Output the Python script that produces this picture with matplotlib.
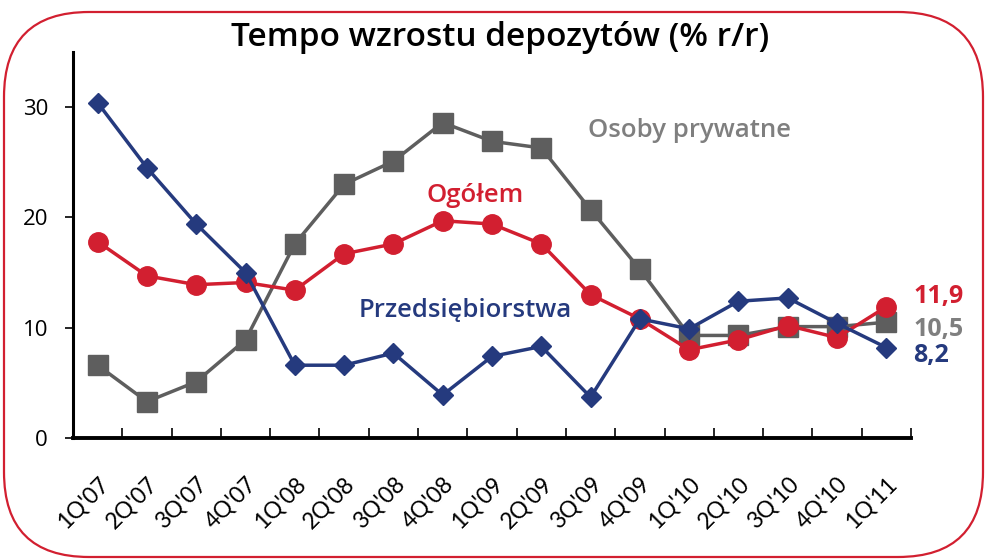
import matplotlib
matplotlib.use("Agg")
import matplotlib.pyplot as plt
from matplotlib.patches import FancyBboxPatch
import numpy as np

plt.rcParams['font.family'] = ['Open Sans', 'DejaVu Sans']

quarters = ["1Q'07", "2Q'07", "3Q'07", "4Q'07", "1Q'08", "2Q'08", "3Q'08", "4Q'08",
            "1Q'09", "2Q'09", "3Q'09", "4Q'09", "1Q'10", "2Q'10", "3Q'10", "4Q'10", "1Q'11"]
przedsiebiorstwa = [30.4, 24.5, 19.4, 15.0, 6.6, 6.6, 7.7, 3.9, 7.4, 8.3, 3.7, 10.8,
                    9.9, 12.4, 12.7, 10.4, 8.2]
osoby_prywatne = [6.6, 3.3, 5.1, 8.9, 17.6, 23.0, 25.1, 28.6, 26.9, 26.3, 20.7, 15.3,
                  9.3, 9.3, 10.1, 10.1, 10.5]
ogolem = [17.8, 14.7, 13.9, 14.1, 13.4, 16.7, 17.6, 19.7, 19.4, 17.6, 13.0, 10.8,
          8.0, 8.9, 10.2, 9.1, 11.9]

RED = '#D21F30'
BLUE = '#253A7E'
GRAY = '#5E5E5E'
LGRAY = '#7F7F7F'

W, H = 986, 560
fig = plt.figure(figsize=(W/100, H/100), dpi=100)

# background axes in pixel coordinates for the rounded frame
bg = fig.add_axes([0, 0, 1, 1])
bg.set_xlim(0, W)
bg.set_ylim(H, 0)
bg.axis('off')
frame = FancyBboxPatch((4, 12), 979, 545, boxstyle="round,pad=0,rounding_size=85",
                       fill=False, edgecolor=RED, linewidth=1.6)
bg.add_patch(frame)

ax = fig.add_axes([73/W, 1 - 438/H, (911 - 73)/W, (438 - 52)/H])

x = np.arange(len(quarters))
ax.plot(x, osoby_prywatne, color=GRAY, lw=2.5, marker='s', ms=14, zorder=3)
ax.plot(x, ogolem, color=RED, lw=2.5, marker='o', ms=14, zorder=4)
ax.plot(x, przedsiebiorstwa, color=BLUE, lw=2.5, marker='D', ms=10, zorder=5)

ax.set_xlim(-0.5, len(quarters) - 0.5)
ax.set_ylim(0, 35)
ax.set_yticks([0, 10, 20, 30])
ax.tick_params(axis='y', labelsize=16, length=6, width=1.2, direction='out', pad=12)
ax.set_xticks(x)
ax.set_xticklabels(quarters, rotation=45, ha='right', rotation_mode='anchor',
                   fontsize=16.5, family=['Lato', 'DejaVu Sans'])
ax.tick_params(axis='x', length=0, pad=25)
ax.set_xticks(np.arange(len(quarters) + 1) - 0.5, minor=True)
ax.tick_params(axis='x', which='minor', length=7, width=1.2, direction='in')
for s in ['top', 'right']:
    ax.spines[s].set_visible(False)
ax.spines['left'].set_linewidth(2.2)
ax.spines['bottom'].set_linewidth(2.8)
ax.patch.set_alpha(0)

fig.text(500/W, 1 - 38/H, 'Tempo wzrostu depozytów (% r/r)', ha='center', va='center',
         fontsize=24, fontweight='semibold', color='black')

ax.text(12.0, 27.9, 'Osoby prywatne', color=LGRAY, fontsize=18.5, fontweight='semibold',
        ha='center', va='center')
ax.text(7.65, 22.0, 'Ogółem', color=RED, fontsize=18.5, fontweight='semibold',
        ha='center', va='center')
ax.text(7.45, 11.6, 'Przedsiębiorstwa', color=BLUE, fontsize=18.5, fontweight='semibold',
        ha='center', va='center')

ax.text(16.55, 12.8, '11,9', color=RED, fontsize=18, fontweight='bold', ha='left', va='center')
ax.text(16.55, 9.8, '10,5', color=LGRAY, fontsize=18, fontweight='bold', ha='left', va='center')
ax.text(16.55, 7.5, '8,2', color=BLUE, fontsize=18, fontweight='bold', ha='left', va='center')

fig.savefig('out.png', dpi=100)
